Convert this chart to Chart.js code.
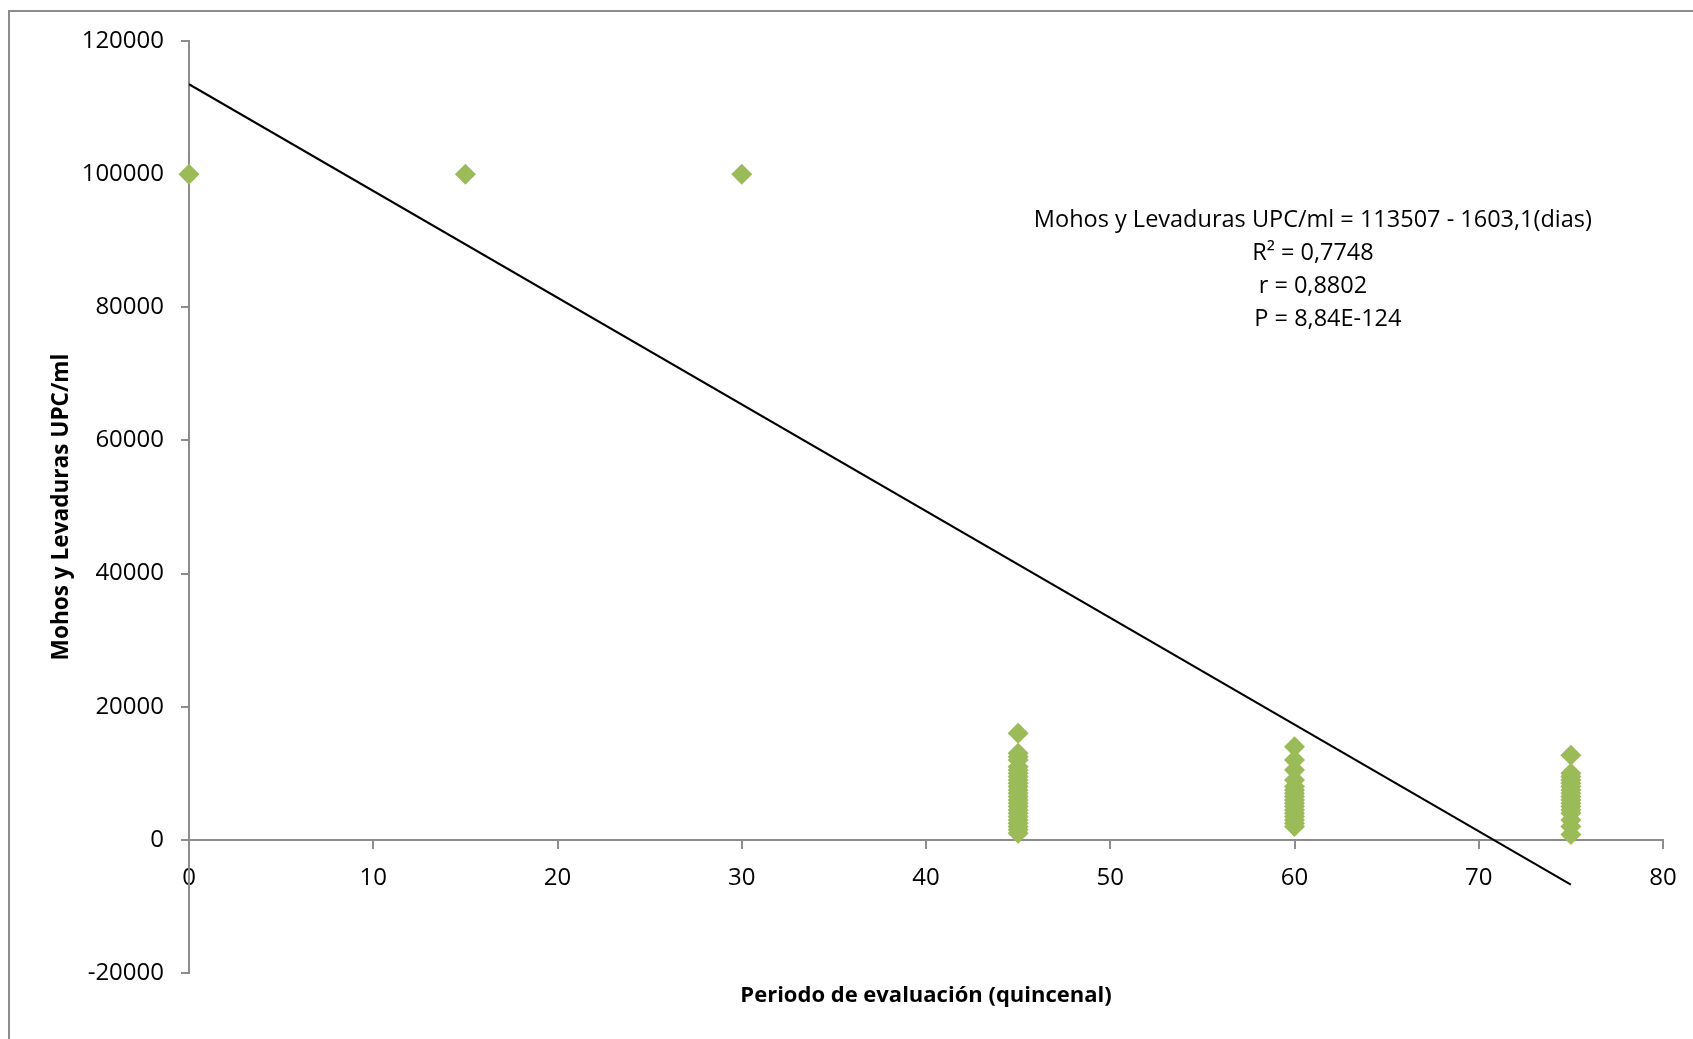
<!DOCTYPE html>
<html>
<head>
<meta charset="utf-8">
<script src="https://cdn.jsdelivr.net/npm/chart.js@4.4.0/dist/chart.umd.min.js"></script>
<style>
  html, body { margin: 0; padding: 0; background: #fff; }
  #wrap { position: relative; width: 1693px; height: 1039px; overflow: hidden; }
  #marco { position: absolute; left: 8px; top: 10px; right: -10px; bottom: -10px;
           border-left: 2px solid #8c8c8c; border-top: 2px solid #8c8c8c; }
  canvas { position: absolute; left: 0; top: 0; }
</style>
</head>
<body>
<div id="wrap">
  <div id="marco"></div>
  <canvas id="grafico" width="1693" height="1039"></canvas>
</div>
<script>
// periodos (dias) y recuentos UPC/ml
const periodos = [0, 15, 30, 45, 60, 75];
const ufc0 = [100000];
const ufc15 = [100000];
const ufc30 = [100000];
const ufc45 = [16000, 13000, 12500, 12000, 11000, 10500, 10000, 9500, 9000, 8500, 8000, 7500,
  7000, 6500, 6000, 5500, 5000, 4500, 4000, 3500, 3000, 2500, 2000, 1500, 1000];
const ufc60 = [14000, 12000, 10500, 9000, 8000, 7500, 7000, 6500, 6000, 5500, 5000, 4500,
  4000, 3500, 3000, 2500, 2000];
const ufc75 = [12700, 10000, 9500, 9000, 8500, 8000, 7500, 7000, 6500, 6000, 5500, 5000,
  4500, 4000, 3000, 2000, 800];

// recta de regresion
const intercepto = 113507;
const pendiente = -1603.1;
const finRecta = 75;

const ecuacion = [
  'Mohos y Levaduras UPC/ml = 113507 - 1603,1(dias)',
  'R² = 0,7748',
  'r = 0,8802',
  'P = 8,84E-124'
];

const valoresPorPeriodo = [ufc0, ufc15, ufc30, ufc45, ufc60, ufc75];
const puntos = [];
periodos.forEach((p, i) => {
  valoresPorPeriodo[i].forEach(v => puntos.push({ x: p, y: v }));
});
const recta = [0, finRecta].map(d => ({ x: d, y: intercepto + pendiente * d }));

Chart.defaults.font.family = "'Open Sans', sans-serif";
Chart.defaults.color = '#000';

const gris = '#8c8c8c';

// texto de la ecuacion, anclado en coordenadas de datos
const textoEcuacion = {
  id: 'textoEcuacion',
  afterDatasetsDraw(chart) {
    const { ctx, scales: { x, y } } = chart;
    const cx = x.getPixelForValue(61);
    const cy = y.getPixelForValue(93000);
    const desplaz = [0, 0, 0, 15];
    ctx.save();
    ctx.font = "23.5px 'Open Sans'";
    ctx.fillStyle = '#000';
    ctx.textAlign = 'center';
    ctx.textBaseline = 'middle';
    ecuacion.forEach((linea, i) => {
      ctx.fillText(linea, cx + desplaz[i], cy + i * 32.8);
    });
    ctx.restore();
  }
};

const ctx = document.getElementById('grafico').getContext('2d');
const grafico = new Chart(ctx, {
  type: 'scatter',
  data: {
    datasets: [
      {
        data: recta,
        showLine: true,
        borderColor: '#000',
        borderWidth: 2,
        pointRadius: 0,
        fill: false,
        order: 0
      },
      {
        data: puntos,
        pointStyle: 'rectRot',
        pointRadius: 10.5,
        pointHoverRadius: 10.5,
        backgroundColor: '#9bbb59',
        borderColor: '#9bbb59',
        borderWidth: 0,
        clip: false,
        order: 1
      }
    ]
  },
  options: {
    responsive: false,
    animation: false,
    devicePixelRatio: 1,
    layout: {
      padding: { left: 0, right: 30, top: 41, bottom: 19.6 }
    },
    scales: {
      x: {
        type: 'linear',
        position: { y: 0 },
        min: 0,
        max: 80,
        ticks: {
          stepSize: 10,
          padding: 16,
          font: { size: 24 },
          color: '#000'
        },
        grid: {
          drawOnChartArea: false,
          drawTicks: true,
          tickLength: 8,
          color: gris,
          lineWidth: 2
        },
        border: { color: gris, width: 2 }
      },
      y: {
        position: 'left',
        min: -20000,
        max: 120000,
        ticks: {
          stepSize: 20000,
          padding: 17,
          font: { size: 24 },
          color: '#000',
          callback: v => String(v)
        },
        grid: {
          drawOnChartArea: false,
          drawTicks: true,
          tickLength: 8,
          color: gris,
          lineWidth: 2
        },
        border: { color: gris, width: 2 },
        title: {
          display: true,
          text: 'Mohos y Levaduras UPC/ml',
          font: { size: 22.6, weight: 'bold' },
          color: '#000',
          padding: { top: 48, bottom: 0 }
        },
        afterFit(scale) {
          scale.width = 189;
        }
      }
    },
    plugins: {
      legend: { display: false },
      tooltip: { enabled: false },
      title: {
        display: true,
        position: 'bottom',
        fullSize: false,
        text: 'Periodo de evaluación (quincenal)',
        font: { size: 22, weight: 'bold' },
        color: '#000',
        padding: { top: 10, bottom: 10 }
      }
    }
  },
  plugins: [textoEcuacion]
});
</script>
</body>
</html>
